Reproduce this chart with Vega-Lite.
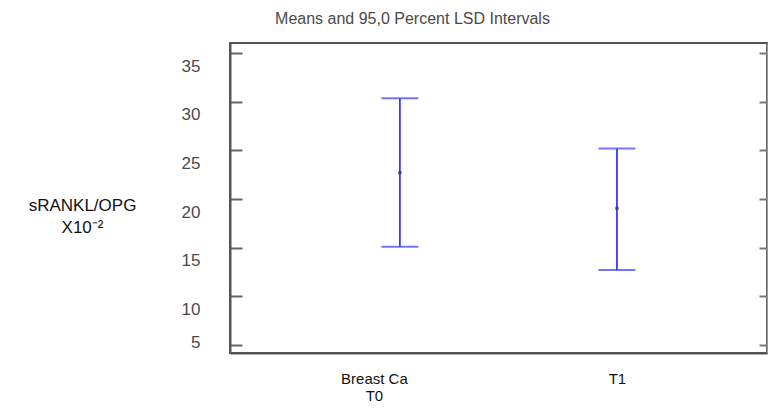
{
  "$schema": "https://vega.github.io/schema/vega-lite/v6.json",
  "width": 537,
  "height": 310,
  "autosize": {"type": "none"},
  "padding": {"left": 230, "top": 43, "right": 1, "bottom": 59},
  "background": "white",
  "title": {
    "text": "Means and 95,0 Percent LSD Intervals",
    "font": "Liberation Sans",
    "fontSize": 16,
    "fontWeight": "normal",
    "color": "#4a4a4a",
    "anchor": "middle",
    "dx": -86,
    "offset": 16
  },
  "config": {
    "view": {"stroke": "#555555", "strokeWidth": 2},
    "axis": {"grid": false}
  },
  "data": {
    "values": [
      {"group": "Breast Ca", "lower": 15.1, "mean": 22.7, "upper": 30.35},
      {"group": "T1", "lower": 12.7, "mean": 19.05, "upper": 25.2}
    ]
  },
  "encoding": {
    "x": {
      "field": "group",
      "type": "nominal",
      "sort": null,
      "scale": {"type": "point", "padding": 0.737, "align": 0.531},
      "axis": {
        "title": null,
        "labelAngle": 0,
        "ticks": false,
        "domain": true,
        "domainColor": "#555555",
        "domainWidth": 2,
        "labelFont": "Liberation Sans",
        "labelFontSize": 15,
        "labelColor": "#111111",
        "labelPadding": 30,
        "labelBaseline": "alphabetic",
        "labelLineHeight": 17,
        "labelExpr": "datum.value == 'Breast Ca' ? ['Breast Ca', 'T0'] : datum.value",
        "labelOffset": {"condition": {"test": "datum.value == 'Breast Ca'", "value": -26}, "value": 0}
      }
    }
  },
  "layer": [
    {
      "mark": {"type": "rule", "color": "#3a3aff", "strokeWidth": 1.8},
      "encoding": {
        "y": {
          "field": "lower",
          "type": "quantitative",
          "scale": {"domain": [4.18, 36.03], "nice": false, "zero": false},
          "axis": {
            "orient": "left",
            "values": [5, 10, 15, 20, 25, 30, 35],
            "domainColor": "#555555",
            "domainWidth": 2,
            "tickColor": "#666666",
            "tickWidth": 2,
            "tickSize": -12,
            "labelFont": "Liberation Sans",
            "labelFontSize": 17,
            "labelColor": "#4a4a4a",
            "labelPadding": 42,
            "labelBaseline": "middle",
            "labelOffset": {"condition": {"test": "datum.value == 5", "value": -3}, "value": 13},
            "title": ["sRANKL/OPG", "X10⁻²"],
            "titleAngle": 0,
            "titleFont": "Liberation Sans",
            "titleFontSize": 17,
            "titleFontWeight": "normal",
            "titleColor": "#111111",
            "titleAlign": "center",
            "titleBaseline": "alphabetic",
            "titleLineHeight": 22,
            "titleX": -148,
            "titleY": 167
          }
        },
        "y2": {"field": "upper"}
      }
    },
    {
      "mark": {"type": "tick", "color": "#3a3aff", "thickness": 2, "size": 37},
      "encoding": {
        "y": {
          "field": "upper",
          "type": "quantitative",
          "axis": {
            "orient": "right",
            "values": [5, 10, 15, 20, 25, 30, 35],
            "labels": false,
            "title": null,
            "domainColor": "#999999",
            "domainWidth": 1.5,
            "tickColor": "#777777",
            "tickWidth": 2,
            "tickSize": -8
          }
        }
      }
    },
    {
      "mark": {"type": "tick", "color": "#3a3aff", "thickness": 2, "size": 37},
      "encoding": {"y": {"field": "lower", "type": "quantitative", "axis": null}}
    },
    {
      "mark": {"type": "square", "color": "#444444", "size": 10, "opacity": 1},
      "encoding": {"y": {"field": "mean", "type": "quantitative", "axis": null}}
    }
  ],
  "resolve": {"axis": {"y": "independent"}}
}
